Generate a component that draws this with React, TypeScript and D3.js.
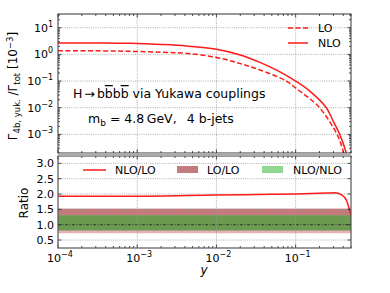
import React from "react";
import * as d3 from "d3";

// values
const xNLO = [1e-4, 3e-4, 8.1e-4, 2e-3, 4.2e-3, 1.0e-2, 2.0e-2, 3.54e-2, 0.06, 0.1, 0.151, 0.244, 0.3, 0.36, 0.436, 0.47];
const yNLO = [2.7, 2.68, 2.6, 2.35, 2.06, 1.55, 0.95, 0.5, 0.24, 0.1, 0.042, 0.01, 3e-3, 1e-3, 2e-4, 6e-5];
const xLO = [1e-4, 3e-4, 8.1e-4, 2e-3, 4.2e-3, 1.0e-2, 2.0e-2, 3.54e-2, 0.0766, 0.1, 0.15, 0.201, 0.333, 0.404, 0.44];
const yLO = [1.37, 1.36, 1.3, 1.2, 1.09, 0.77, 0.45, 0.26, 0.1, 0.055, 0.022, 0.01, 1e-3, 2e-4, 6e-5];
const xRatio = [1e-4, 1e-3, 1e-2, 0.05, 0.1, 0.25, 0.311, 0.38, 0.437, 0.5];
const yRatio = [1.93, 1.93, 1.97, 1.99, 2.0, 2.03, 2.04, 1.97, 1.8, 1.3];
const loBand = [0.72, 1.52];
const nloBand = [0.81, 1.31];
const xDecades = [-4, -3, -2, -1];
const yDecades = [1, 0, -1, -2, -3];
const ratioTicks = [0.5, 1.0, 1.5, 2.0, 2.5, 3.0];

const W = 390, H = 293;
const L = 58, R = 351;
const T1 = 14, B1 = 153, T2 = 156, B2 = 248;
const font = "DejaVu Sans, sans-serif";

const x = d3.scaleLog().domain([1e-4, 0.5]).range([L, R]);
const yTop = d3.scaleLog().domain([2e-4, 32.7]).range([B1, T1]);
const yRat = d3.scaleLinear().domain([0.24, 3.24]).range([B2, T2]);

const minorX: number[] = [];
xDecades.forEach(d => { for (let k = 2; k <= 9; k++) { const v = k * Math.pow(10, d); if (v <= 0.5) minorX.push(v); } });
const minorY: number[] = [];
[-4, -3, -2, -1, 0, 1].forEach(d => { for (let k = 2; k <= 9; k++) { const v = k * Math.pow(10, d); if (v >= 2e-4 && v <= 32.7) minorY.push(v); } });

const red = "#ff1a1a";

function Pow({ e }: { e: number }) {
  return (<>10<tspan dy={-5} fontSize={8}>{e < 0 ? "\u2212" + Math.abs(e) : e}</tspan></>);
}

export default function App() {
  const nloPath = d3.line<number>().curve(d3.curveCatmullRom).x((_, i) => x(xNLO[i])).y(d => yTop(d))(yNLO) || "";
  const loPath = d3.line<number>().curve(d3.curveCatmullRom).x((_, i) => x(xLO[i])).y(d => yTop(d))(yLO) || "";
  const ratPath = d3.line<number>().curve(d3.curveMonotoneX).x((_, i) => x(xRatio[i])).y(d => yRat(d))(yRatio) || "";
  const grid = "#9a9a9a";
  const ol = { textDecoration: "overline" };
  return (
    <svg width={W} height={H} style={{ position: "absolute", left: 0, top: 0 }} fontFamily={font}>
      <rect width={W} height={H} fill="white" />
      <defs>
        <clipPath id="c1"><rect x={L} y={T1} width={R - L} height={B1 - T1} /></clipPath>
        <clipPath id="c2"><rect x={L} y={T2} width={R - L} height={B2 - T2} /></clipPath>
      </defs>

      {/* top panel grid */}
      {yDecades.map(d => (
        <line key={"gy" + d} x1={L} x2={R} y1={yTop(Math.pow(10, d))} y2={yTop(Math.pow(10, d))} stroke={grid} strokeDasharray="1,1.2" strokeWidth={0.8} />
      ))}
      {xDecades.slice(1).map(d => (
        <line key={"gx" + d} x1={x(Math.pow(10, d))} x2={x(Math.pow(10, d))} y1={T1} y2={B1} stroke={grid} strokeDasharray="1,1.2" strokeWidth={0.8} />
      ))}

      <g clipPath="url(#c1)">
        <path d={loPath} fill="none" stroke={red} strokeWidth={1.5} strokeDasharray="5,2.5" />
        <path d={nloPath} fill="none" stroke={red} strokeWidth={1.5} />
      </g>

      {/* annotations */}
      <text x={73} y={98} fontSize={12.5}>H<tspan dx={2}>{"\u2192"}</tspan><tspan dx={2}>b</tspan><tspan style={ol}>b</tspan><tspan>b</tspan><tspan style={ol}>b</tspan><tspan> via Yukawa couplings</tspan></text>
      <text x={88} y={123} fontSize={12.5}>m<tspan dy={2.5} fontSize={9}>b</tspan><tspan dy={-2.5}>{" = 4.8\u2009GeV,\u2002 4 b-jets"}</tspan></text>

      {/* top legend */}
      <line x1={288} x2={308} y1={28} y2={28} stroke={red} strokeWidth={1.5} strokeDasharray="5,2.5" />
      <text x={318} y={32} fontSize={11}>LO</text>
      <line x1={288} x2={308} y1={43} y2={43} stroke={red} strokeWidth={1.5} />
      <text x={318} y={47} fontSize={11}>NLO</text>

      {/* ratio panel bands */}
      <g clipPath="url(#c2)">
        <rect x={L} width={R - L} y={yRat(loBand[1])} height={yRat(loBand[0]) - yRat(loBand[1])} fill="#e4b1b6" />
        <rect x={L} width={R - L} y={yRat(loBand[1])} height={yRat(nloBand[1]) - yRat(loBand[1])} fill="#c47b7e" />
        <rect x={L} width={R - L} y={yRat(nloBand[1])} height={yRat(nloBand[0]) - yRat(nloBand[1])} fill="#6b9a50" />
      </g>
      {ratioTicks.map(t => (
        <line key={"rg" + t} x1={L} x2={R} y1={yRat(t)} y2={yRat(t)} stroke={t === 1 ? "#222" : grid} strokeDasharray={t === 1 ? "3,1.5,1,1.5" : "1,1.2"} strokeWidth={0.8} />
      ))}
      {xDecades.slice(1).map(d => (
        <line key={"rgx" + d} x1={x(Math.pow(10, d))} x2={x(Math.pow(10, d))} y1={T2} y2={B2} stroke={grid} strokeDasharray="1,1.2" strokeWidth={0.8} />
      ))}
      <g clipPath="url(#c2)">
        <path d={ratPath} fill="none" stroke={red} strokeWidth={1.5} />
      </g>

      {/* ratio legend */}
      <line x1={83} x2={106} y1={170} y2={170} stroke={red} strokeWidth={1.5} />
      <text x={115} y={174} fontSize={11}>NLO/LO</text>
      <rect x={177} y={166} width={21} height={7} fill="#c47b7e" />
      <text x={207} y={174} fontSize={11}>LO/LO</text>
      <rect x={262} y={166} width={21} height={7} fill="#8fd88f" />
      <text x={293} y={174} fontSize={11}>NLO/NLO</text>

      {/* ticks */}
      {[[T1, B1], [T2, B2]].map(([t, b], p) => (
        <g key={"tk" + p} stroke="#222" strokeWidth={0.8}>
          {xDecades.map(d => (
            <g key={d}>
              <line x1={x(Math.pow(10, d))} x2={x(Math.pow(10, d))} y1={b} y2={b - 3.5} />
              <line x1={x(Math.pow(10, d))} x2={x(Math.pow(10, d))} y1={t} y2={t + 3.5} />
            </g>
          ))}
          {minorX.map(v => (
            <g key={v}>
              <line x1={x(v)} x2={x(v)} y1={b} y2={b - 2} />
              <line x1={x(v)} x2={x(v)} y1={t} y2={t + 2} />
            </g>
          ))}
        </g>
      ))}
      <g stroke="#222" strokeWidth={0.8}>
        {yDecades.map(d => (
          <g key={d}>
            <line x1={L} x2={L + 3.5} y1={yTop(Math.pow(10, d))} y2={yTop(Math.pow(10, d))} />
            <line x1={R} x2={R - 3.5} y1={yTop(Math.pow(10, d))} y2={yTop(Math.pow(10, d))} />
          </g>
        ))}
        {minorY.map(v => (
          <g key={v}>
            <line x1={L} x2={L + 2} y1={yTop(v)} y2={yTop(v)} />
            <line x1={R} x2={R - 2} y1={yTop(v)} y2={yTop(v)} />
          </g>
        ))}
        {ratioTicks.map(t => (
          <g key={t}>
            <line x1={L} x2={L + 3.5} y1={yRat(t)} y2={yRat(t)} />
            <line x1={R} x2={R - 3.5} y1={yRat(t)} y2={yRat(t)} />
          </g>
        ))}
      </g>

      {/* frames */}
      <rect x={L} y={T1} width={R - L} height={B1 - T1} fill="none" stroke="#333" strokeWidth={1} />
      <rect x={L} y={T2} width={R - L} height={B2 - T2} fill="none" stroke="#555" strokeWidth={1.2} />
      <rect x={L} y={B1} width={R - L} height={T2 - B1} fill="#aaa" />

      {/* tick labels */}
      {yDecades.map(d => (
        <text key={"yl" + d} x={53} y={yTop(Math.pow(10, d)) + 4} fontSize={11} textAnchor="end"><Pow e={d} /></text>
      ))}
      {ratioTicks.map(t => (
        <text key={"rl" + t} x={54} y={yRat(t) + 4} fontSize={11} textAnchor="end">{t.toFixed(1)}</text>
      ))}
      {xDecades.map(d => (
        <text key={"xl" + d} x={x(Math.pow(10, d)) + 2} y={262} fontSize={11} textAnchor="middle"><Pow e={d} /></text>
      ))}
      <text x={204} y={274} fontSize={12} fontStyle="italic" textAnchor="middle">y</text>

      {/* axis labels */}
      <text transform="translate(17,86) rotate(-90)" fontSize={12} textAnchor="middle">
        {"\u0393"}<tspan dy={2.5} fontSize={8.5}>4b, yuk.</tspan><tspan dy={-2.5}>{" /\u0393"}</tspan><tspan dy={2.5} fontSize={8.5}>tot</tspan><tspan dy={-2.5}> [10</tspan><tspan dy={-4.5} fontSize={8.5}>{"\u22123"}</tspan><tspan dy={4.5}>]</tspan>
      </text>
      <text transform="translate(28,203) rotate(-90)" fontSize={12} textAnchor="middle">Ratio</text>
    </svg>
  );
}
